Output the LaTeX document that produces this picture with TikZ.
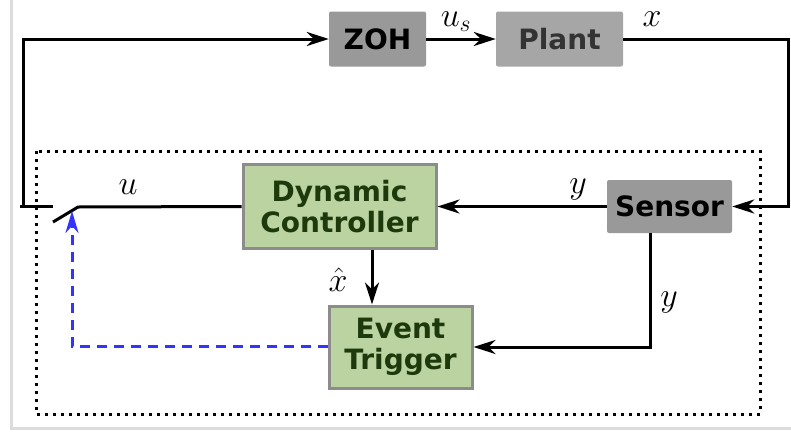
\RequirePackage{fix-cm}
\documentclass[tikz,border=0pt]{standalone}
\usepackage{fontspec}
\setsansfont{DejaVu Sans}
\usetikzlibrary{arrows.meta}

\definecolor{framegray}{HTML}{DCDCDC}
\definecolor{boxdark}{HTML}{999999}
\definecolor{boxlight}{HTML}{A6A6A6}
\definecolor{plantText}{HTML}{333333}
\definecolor{greenfill}{HTML}{BAD3A1}
\definecolor{greenedge}{HTML}{8C8C8C}
\definecolor{greentext}{HTML}{1E3A0C}
\definecolor{trigblue}{HTML}{3333FF}

\tikzset{
  blocktext/.style={font=\fontsize{28}{33}\selectfont\sffamily\bfseries, align=center, inner sep=0pt},
  graybox/.style={blocktext, rounded corners=2pt, draw=none},
  greenbox/.style={blocktext, fill=greenfill, draw=greenedge, line width=3pt, text=greentext},
  sig/.style={line width=3pt, draw=black},
  arr/.style={sig, -{Stealth[length=22pt, width=14pt, inset=7pt]}},
  trig/.style={line width=3pt, draw=trigblue, dash pattern=on 10pt off 7pt,
               -{Stealth[length=22pt, width=13pt, inset=7pt]}},
  mathlbl/.style={font=\fontsize{34}{40}\selectfont, inner sep=0pt},
  region/.style={line width=3pt, dash pattern=on 3pt off 5pt}
}

\begin{document}
\begin{tikzpicture}[x=1pt, y=-1pt]
  \useasboundingbox (0,0) rectangle (791,431);

  % light outer frame (open on the right)
  \draw[framegray, line width=3.5pt] (11.5,-5) rectangle (800,428.5);

  % dotted boundary of the event-triggered controller
  \draw[region] (36,151) rectangle (760,414);

  % blocks
  \node[graybox, fill=boxdark, minimum width=97pt, minimum height=55pt] (zoh) at (377.5,39) {ZOH};
  \node[graybox, fill=boxlight, text=plantText, minimum width=127pt, minimum height=55pt] (plant) at (559.5,39) {Plant};
  \node[graybox, fill=boxdark, minimum width=125pt, minimum height=53pt] (sensor) at (669.5,206.5) {Sensor};
  \node[greenbox, minimum width=193pt, minimum height=84pt] (dc) at (339.5,206.5) {Dynamic\\[-2pt]Controller};
  \node[greenbox, minimum width=143pt, minimum height=82pt] (et) at (400.5,347) {Event\\[-2pt]Trigger};

  % switch and helper points
  \coordinate (stubL) at (21,206.5);
  \coordinate (stubR) at (51,206.5);
  \coordinate (fb) at (23.5,206.5);
  \coordinate (swL) at (53,222);
  \coordinate (swR) at (78,207);
  \coordinate (rc) at (788,206.5);
  \coordinate (sdown) at (650,233);
  \coordinate (xh) at (372,248);
  \coordinate (bl) at (72,346);
  \coordinate (tip) at (72,211);

  % connectors
  \draw[sig, line cap=rect] (stubL) -- (stubR);
  \draw[arr] (fb) |- (zoh.west);
  \draw[arr] (zoh.east) -- (plant.west);
  \draw[arr] (plant.east) -| (rc) -- (sensor.east);
  \draw[arr] (sensor.west) -- (dc.east);
  \draw[arr] (sdown) |- (et.east);
  \draw[arr] (dc.south -| xh) -- (et.north -| xh);
  \draw[sig] (dc.west) -- (swR) -- (swL);
  \draw[trig] (et.west |- bl) -- (bl) -- (tip);

  % signal labels
  \node[mathlbl] (lus) at (456,22) {$u_s$};
  \node[mathlbl] (lx) at (652,19) {$x$};
  \node[mathlbl] (lu) at (128,187) {$u$};
  \node[mathlbl] (ly1) at (578,189) {$y$};
  \node[mathlbl] (ly2) at (669,302) {$y$};
  \node[mathlbl] (lxh) at (338,280) {$\hat{x}$};
\end{tikzpicture}
\end{document}
